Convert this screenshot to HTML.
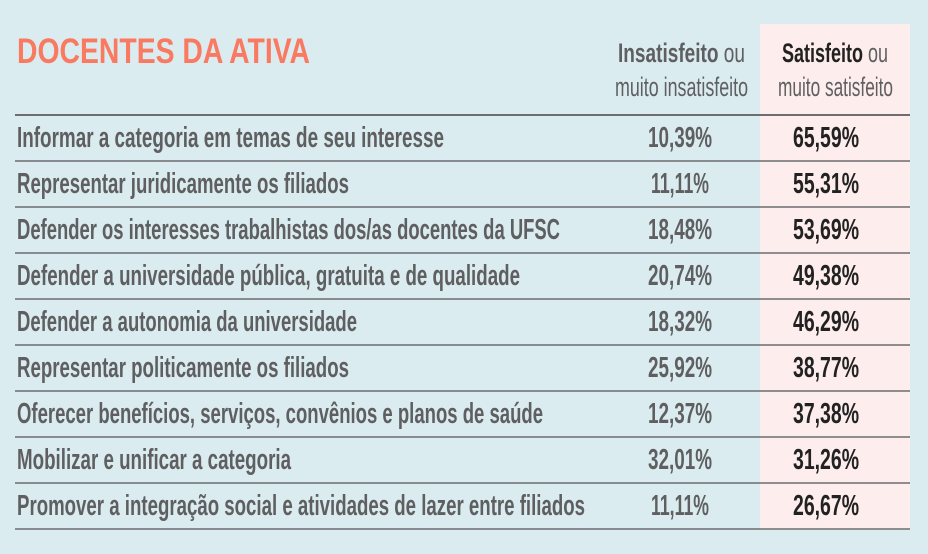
<!DOCTYPE html>
<html><head><meta charset="utf-8"><style>
html,body{margin:0;padding:0;background:#daecef;}
svg{display:block;}
text{font-family:"Liberation Sans",sans-serif;}
</style></head><body>
<svg width="928" height="554" viewBox="0 0 928 554" xmlns="http://www.w3.org/2000/svg">
<rect width="928" height="554" fill="#daecef"/>
<rect x="760" y="24" width="150" height="506" fill="#fdeeed"/>
<text x="17" y="63" font-size="35" font-weight="bold" fill="#f97a60" textLength="293" lengthAdjust="spacingAndGlyphs">DOCENTES DA ATIVA</text>
<g font-size="27" fill="#5f5f62">
<text x="618" y="62" textLength="127" lengthAdjust="spacingAndGlyphs"><tspan font-weight="bold">Insatisfeito</tspan> ou</text>
<text x="615" y="96" textLength="133" lengthAdjust="spacingAndGlyphs">muito insatisfeito</text>
<text x="782" y="62" textLength="106" lengthAdjust="spacingAndGlyphs" fill="#222"><tspan font-weight="bold">Satisfeito</tspan> <tspan fill="#5f5f62">ou</tspan></text>
<text x="778" y="96" textLength="115" lengthAdjust="spacingAndGlyphs">muito satisfeito</text>
</g>
<g stroke="#6d6d70">
<line x1="15" y1="115" x2="910" y2="115" stroke-width="2"/>
<line x1="15" y1="161" x2="910" y2="161" stroke-width="1.5"/>
<line x1="15" y1="207" x2="910" y2="207" stroke-width="1.5"/>
<line x1="15" y1="253" x2="910" y2="253" stroke-width="1.5"/>
<line x1="15" y1="299" x2="910" y2="299" stroke-width="1.5"/>
<line x1="15" y1="345" x2="910" y2="345" stroke-width="1.5"/>
<line x1="15" y1="391" x2="910" y2="391" stroke-width="1.5"/>
<line x1="15" y1="437" x2="910" y2="437" stroke-width="1.5"/>
<line x1="15" y1="483" x2="910" y2="483" stroke-width="1.5"/>
<line x1="15" y1="529" x2="910" y2="529" stroke-width="1.5"/>
</g>
<g font-size="29" fill="#5f5f62" font-weight="bold">
<text x="17" y="147" textLength="427" lengthAdjust="spacingAndGlyphs">Informar a categoria em temas de seu interesse</text>
<text x="17" y="193" textLength="332" lengthAdjust="spacingAndGlyphs">Representar juridicamente os filiados</text>
<text x="17" y="239" textLength="543" lengthAdjust="spacingAndGlyphs">Defender os interesses trabalhistas dos/as docentes da UFSC</text>
<text x="17" y="285" textLength="503" lengthAdjust="spacingAndGlyphs">Defender a universidade pública, gratuita e de qualidade</text>
<text x="17" y="331" textLength="340" lengthAdjust="spacingAndGlyphs">Defender a autonomia da universidade</text>
<text x="17" y="377" textLength="332" lengthAdjust="spacingAndGlyphs">Representar politicamente os filiados</text>
<text x="17" y="423" textLength="526" lengthAdjust="spacingAndGlyphs">Oferecer benefícios, serviços, convênios e planos de saúde</text>
<text x="17" y="469" textLength="274" lengthAdjust="spacingAndGlyphs">Mobilizar e unificar a categoria</text>
<text x="17" y="515" textLength="568" lengthAdjust="spacingAndGlyphs">Promover a integração social e atividades de lazer entre filiados</text>
</g>
<g font-size="29" fill="#5f5f62" font-weight="bold" text-anchor="middle">
<text x="680" y="147" textLength="64" lengthAdjust="spacingAndGlyphs">10,39%</text>
<text x="680" y="193" textLength="58" lengthAdjust="spacingAndGlyphs">11,11%</text>
<text x="680" y="239" textLength="64" lengthAdjust="spacingAndGlyphs">18,48%</text>
<text x="680" y="285" textLength="64" lengthAdjust="spacingAndGlyphs">20,74%</text>
<text x="680" y="331" textLength="64" lengthAdjust="spacingAndGlyphs">18,32%</text>
<text x="680" y="377" textLength="64" lengthAdjust="spacingAndGlyphs">25,92%</text>
<text x="680" y="423" textLength="64" lengthAdjust="spacingAndGlyphs">12,37%</text>
<text x="680" y="469" textLength="64" lengthAdjust="spacingAndGlyphs">32,01%</text>
<text x="680" y="515" textLength="58" lengthAdjust="spacingAndGlyphs">11,11%</text>
</g>
<g font-size="29" fill="#222" font-weight="bold" text-anchor="middle">
<text x="826" y="147" textLength="66" lengthAdjust="spacingAndGlyphs">65,59%</text>
<text x="826" y="193" textLength="66" lengthAdjust="spacingAndGlyphs">55,31%</text>
<text x="826" y="239" textLength="66" lengthAdjust="spacingAndGlyphs">53,69%</text>
<text x="826" y="285" textLength="66" lengthAdjust="spacingAndGlyphs">49,38%</text>
<text x="826" y="331" textLength="66" lengthAdjust="spacingAndGlyphs">46,29%</text>
<text x="826" y="377" textLength="66" lengthAdjust="spacingAndGlyphs">38,77%</text>
<text x="826" y="423" textLength="66" lengthAdjust="spacingAndGlyphs">37,38%</text>
<text x="826" y="469" textLength="66" lengthAdjust="spacingAndGlyphs">31,26%</text>
<text x="826" y="515" textLength="66" lengthAdjust="spacingAndGlyphs">26,67%</text>
</g>
</svg>
</body></html>
